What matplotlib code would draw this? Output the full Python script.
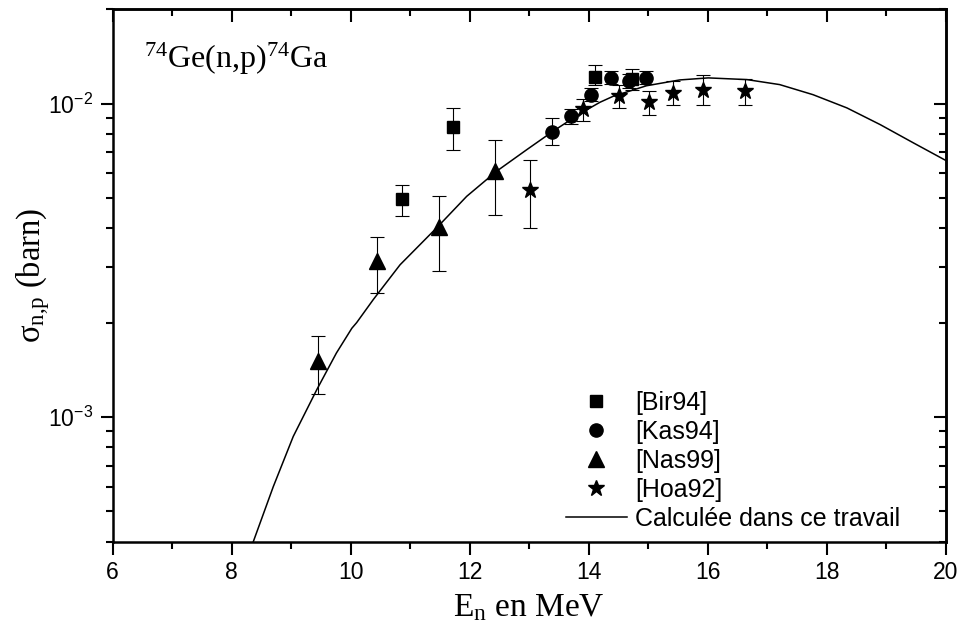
import matplotlib
matplotlib.use("Agg")
import matplotlib.pyplot as plt
from matplotlib.ticker import LogLocator, NullFormatter, MultipleLocator
import numpy as np

plt.rcParams['font.family'] = ['Liberation Sans', 'DejaVu Sans']
plt.rcParams['mathtext.fontset'] = 'custom'
plt.rcParams['mathtext.rm'] = 'Liberation Serif'
plt.rcParams['mathtext.it'] = 'Liberation Serif'
plt.rcParams['mathtext.bf'] = 'Liberation Serif:bold'
plt.rcParams['axes.unicode_minus'] = False

# experimental data: energy (MeV), cross section (barn), upper and lower error ends
bir_E = [10.87, 11.72, 14.11, 14.72]
bir_s = [4.95e-3, 8.4e-3, 1.213e-2, 1.20e-2]
bir_hi = [5.5e-3, 9.69e-3, 1.325e-2, 1.293e-2]
bir_lo = [4.37e-3, 7.11e-3, 1.15e-2, 1.108e-2]

kas_E = [13.39, 13.70, 14.04, 14.37, 14.68, 14.96]
kas_s = [8.12e-3, 9.11e-3, 1.068e-2, 1.21e-2, 1.178e-2, 1.21e-2]
kas_hi = [9.0e-3, 9.62e-3, 1.12e-2, 1.268e-2, 1.24e-2, 1.268e-2]
kas_lo = [7.4e-3, 8.64e-3, 1.02e-2, 1.155e-2, 1.12e-2, 1.155e-2]

nas_E = [9.45, 10.45, 11.49, 12.43]
nas_s = [1.505e-3, 3.14e-3, 4.03e-3, 6.08e-3]
nas_hi = [1.82e-3, 3.74e-3, 5.06e-3, 7.63e-3]
nas_lo = [1.18e-3, 2.49e-3, 2.93e-3, 4.42e-3]

hoa_E = [13.01, 13.91, 14.51, 15.02, 15.41, 15.92, 16.62]
hoa_s = [5.29e-3, 9.62e-3, 1.06e-2, 1.01e-2, 1.082e-2, 1.108e-2, 1.10e-2]
hoa_hi = [6.59e-3, 1.037e-2, 1.15e-2, 1.10e-2, 1.18e-2, 1.23e-2, 1.20e-2]
hoa_lo = [4.0e-3, 8.83e-3, 9.69e-3, 9.2e-3, 9.93e-3, 9.93e-3, 9.93e-3]

# calculated curve
calc_E = [8.363, 8.70, 9.035, 9.43, 9.76, 10.02, 10.10, 10.38, 10.83, 11.47, 11.95,
          12.45, 12.96, 13.40, 13.85, 14.19, 14.41, 14.97, 15.53, 16.01, 16.66,
          17.21, 17.77, 18.34, 18.90, 19.46, 20.0]
calc_s = [4.0e-4, 6.0e-4, 8.67e-4, 1.222e-3, 1.60e-3, 1.92e-3, 2.0e-3, 2.37e-3,
          3.06e-3, 4.06e-3, 5.06e-3, 6.08e-3, 7.13e-3, 8.16e-3, 9.28e-3, 1.01e-2,
          1.055e-2, 1.14e-2, 1.19e-2, 1.208e-2, 1.193e-2, 1.15e-2, 1.068e-2,
          9.69e-3, 8.57e-3, 7.49e-3, 6.59e-3]

fig = plt.figure(figsize=(9.63, 6.44), dpi=100)
ax = fig.add_axes([0.117, 0.1588, 0.865, 0.8268])

ax.plot(calc_E, calc_s, color='black', lw=1.1, label='Calculée dans ce travail', zorder=2)

series = [
    (bir_E, bir_s, bir_hi, bir_lo, 's', 8.5, '[Bir94]'),
    (kas_E, kas_s, kas_hi, kas_lo, 'o', 9.5, '[Kas94]'),
    (nas_E, nas_s, nas_hi, nas_lo, '^', 11, '[Nas99]'),
    (hoa_E, hoa_s, hoa_hi, hoa_lo, '*', 12, '[Hoa92]'),
]
handles = []
for E, s, hi, lo, mk, ms, lab in series:
    s = np.array(s)
    err = [s - np.array(lo), np.array(hi) - s]
    ax.errorbar(E, s, yerr=err, fmt='none', ecolor='black', elinewidth=0.8,
                capsize=4.7, capthick=0.8, zorder=3)
    h, = ax.plot(E, s, ls='none', marker=mk, ms=ms, color='black', label=lab, zorder=4)
    handles.append(h)

line_handle = ax.get_lines()[0]
leg = ax.legend(handles + [line_handle], [h.get_label() for h in handles] + [line_handle.get_label()],
                loc='lower left', bbox_to_anchor=(0.544, 0.02), frameon=False, fontsize=18,
                handlelength=2.44, labelspacing=0.2, borderaxespad=0, borderpad=0,
                handletextpad=0.32)

ax.set_yscale('log')
ax.set_xlim(6, 20)
ax.set_ylim(4e-4, 2e-2)

ax.xaxis.set_major_locator(MultipleLocator(2))
ax.xaxis.set_minor_locator(MultipleLocator(1))
ax.yaxis.set_major_locator(LogLocator(base=10))
ax.yaxis.set_minor_locator(LogLocator(base=10, subs=np.arange(2, 10)))
ax.yaxis.set_minor_formatter(NullFormatter())

for sp in ax.spines.values():
    sp.set_linewidth(1.8)

ax.tick_params(which='major', direction='out', length=9, width=1.5, labelsize=16.5, pad=5)
ax.tick_params(which='minor', direction='out', length=4.8, width=1.5)

# top and right axes have inward ticks
top = ax.secondary_xaxis('top')
top.xaxis.set_major_locator(MultipleLocator(2))
top.xaxis.set_minor_locator(MultipleLocator(1))
top.tick_params(which='major', direction='in', length=9, width=1.5, labeltop=False)
top.tick_params(which='minor', direction='in', length=4.8, width=1.5)
top.spines['top'].set_linewidth(1.8)

right = ax.secondary_yaxis('right')
right.yaxis.set_major_locator(LogLocator(base=10))
right.yaxis.set_minor_locator(LogLocator(base=10, subs=np.arange(2, 10)))
right.tick_params(which='major', direction='in', length=9, width=1.5, labelright=False)
right.tick_params(which='minor', direction='in', length=4.8, width=1.5)
right.spines['right'].set_linewidth(1.8)

ax.set_xlabel(r'E$_{\rm n}$ en MeV', fontsize=24, family='Liberation Serif', labelpad=6)
ax.set_ylabel(r'$\sigma_{\rm n{,}p}$ (barn)', fontsize=23.5, family='Liberation Serif')
ax.yaxis.set_label_coords(-0.073, 0.5)

ax.text(0.038, 0.94, r'$^{74}$Ge(n,p)$^{74}$Ga', transform=ax.transAxes,
        fontsize=23, family='Liberation Serif', va='top', ha='left')

fig.savefig('out.png', dpi=100)
